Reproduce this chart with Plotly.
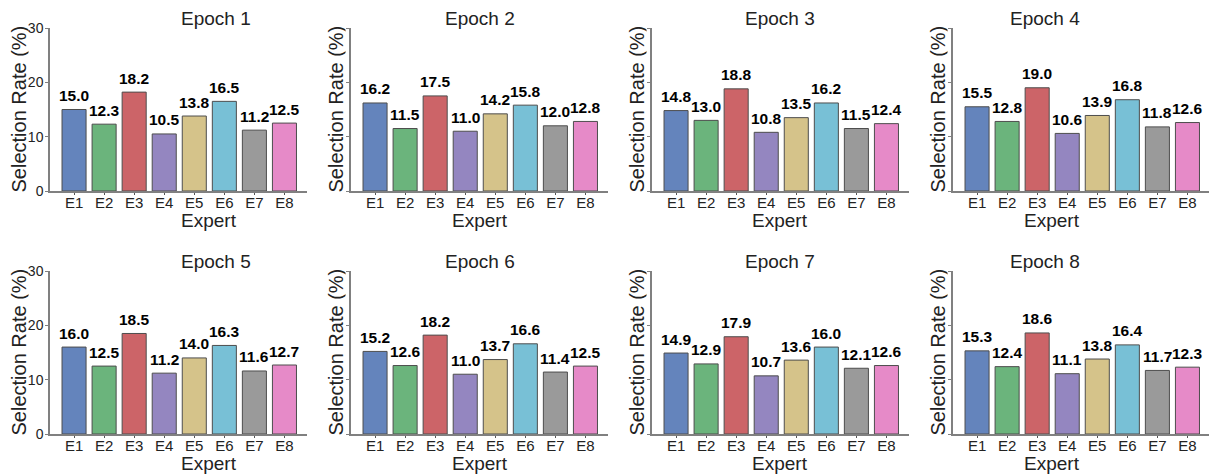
import plotly.graph_objects as go
from plotly.subplots import make_subplots

experts = ["E1", "E2", "E3", "E4", "E5", "E6", "E7", "E8"]
epochs = ["Epoch 1", "Epoch 2", "Epoch 3", "Epoch 4", "Epoch 5", "Epoch 6", "Epoch 7", "Epoch 8"]
epoch1 = [15.0, 12.3, 18.2, 10.5, 13.8, 16.5, 11.2, 12.5]
epoch2 = [16.2, 11.5, 17.5, 11.0, 14.2, 15.8, 12.0, 12.8]
epoch3 = [14.8, 13.0, 18.8, 10.8, 13.5, 16.2, 11.5, 12.4]
epoch4 = [15.5, 12.8, 19.0, 10.6, 13.9, 16.8, 11.8, 12.6]
epoch5 = [16.0, 12.5, 18.5, 11.2, 14.0, 16.3, 11.6, 12.7]
epoch6 = [15.2, 12.6, 18.2, 11.0, 13.7, 16.6, 11.4, 12.5]
epoch7 = [14.9, 12.9, 17.9, 10.7, 13.6, 16.0, 12.1, 12.6]
epoch8 = [15.3, 12.4, 18.6, 11.1, 13.8, 16.4, 11.7, 12.3]
series = [epoch1, epoch2, epoch3, epoch4, epoch5, epoch6, epoch7, epoch8]
y_ticks = [0, 10, 20, 30]

colors = ["#6484bc", "#6bb47c", "#cc6468", "#9486c0", "#d5c38a", "#78c0d6", "#9a9a9a", "#e68ac8"]
FONT = "Liberation Sans, Arial, sans-serif"

fig = make_subplots(rows=2, cols=4)

W, H = 1217, 475
OFF = 8  # page body margin
x_left = [50, 351, 652, 953]
ax_w = 257
row_px = [(28, 191), (271, 434)]
ytitle_x = [18, 335, 636, 937]

for i, (name, vals) in enumerate(zip(epochs, series)):
    r, c = i // 4 + 1, i % 4 + 1
    fig.add_trace(
        go.Bar(
            x=experts, y=vals,
            marker=dict(color=colors, line=dict(color="#4d4d4d", width=1)),
            width=0.8,
            showlegend=False,
        ),
        row=r, col=c,
    )
    top, bot = row_px[r - 1]
    xl = x_left[c - 1] - OFF
    xd = [xl / W, (xl + ax_w) / W]
    yd = [1 - (bot - OFF) / H, 1 - (top - OFF) / H]
    fig.update_xaxes(
        domain=xd, range=[-0.8, 7.75], showline=True, linecolor="#808080", linewidth=1.5,
        ticks="outside", ticklen=2, tickcolor="#555", tickwidth=1, ticklabelstandoff=-5,
        tickfont=dict(family=FONT, size=15, color="#222"), automargin=False,
        showgrid=False, zeroline=False, row=r, col=c,
    )
    fig.update_yaxes(
        domain=yd, range=[0, 30], tickvals=y_ticks, showline=True, linecolor="#808080", linewidth=1.5,
        ticks="outside", ticklen=3, tickcolor="#808080", automargin=False, ticklabelstandoff=-1,
        showticklabels=(c == 1), tickfont=dict(family=FONT, size=14, color="#222"),
        showgrid=False, zeroline=False, row=r, col=c,
    )
    axn = "" if i == 0 else str(i + 1)
    for e, v in zip(experts, vals):
        fig.add_annotation(
            x=e, y=v, xref=f"x{axn}", yref=f"y{axn}", text=f"<b>{v:.1f}</b>",
            showarrow=False, yanchor="bottom", yshift=3.5,
            font=dict(family=FONT, size=15.5, color="black"),
        )
    # subplot title
    fig.add_annotation(
        x=(xd[0] + xd[1]) / 2, y=yd[1], xref="paper", yref="paper",
        text=name, showarrow=False, yanchor="bottom", yshift=-3,
        font=dict(family=FONT, size=19, color="#222"),
    )
    # x axis title
    fig.add_annotation(
        x=(xd[0] + xd[1]) / 2, y=yd[0], xref="paper", yref="paper",
        text="Expert", showarrow=False, yanchor="top", yshift=-17,
        font=dict(family=FONT, size=19, color="#222"),
    )
    # y axis title
    fig.add_annotation(
        x=(ytitle_x[c - 1] - OFF) / W, y=(yd[0] + yd[1]) / 2, xref="paper", yref="paper",
        text="Selection Rate (%)", showarrow=False, textangle=-90,
        xanchor="center", yanchor="middle", borderpad=0, height=20,
        font=dict(family=FONT, size=20, color="#222"),
    )

fig.update_layout(
    width=W, height=H, margin=dict(l=0, r=0, t=0, b=0),
    plot_bgcolor="white", paper_bgcolor="white", bargap=0.2,
    font=dict(family=FONT),
)
fig.write_html("out.html")
